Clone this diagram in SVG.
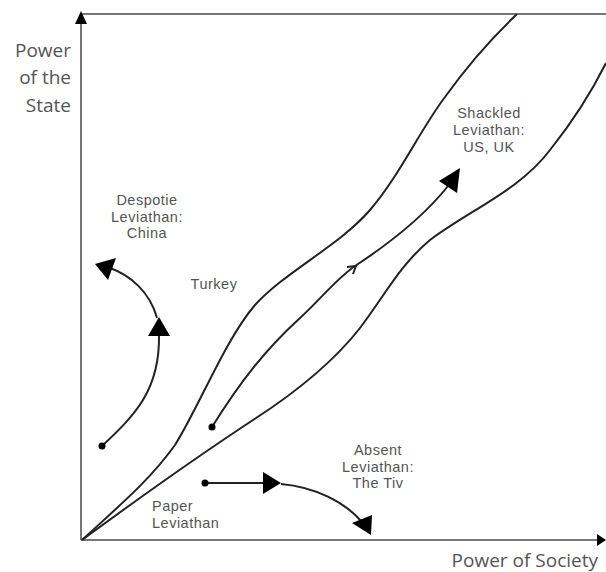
<svg xmlns="http://www.w3.org/2000/svg" width="606" height="572" viewBox="0 0 606 572">
<style>
.axis{stroke:#777;stroke-width:2;fill:none}
.curve{stroke:#222;stroke-width:2;fill:none}
.head{fill:#000;stroke:none}
.lbl{font-family:"Liberation Sans",Arial,sans-serif;font-size:14.5px;letter-spacing:0.5px;fill:#555;text-anchor:middle}
.ax{font-family:"Open Sans","DejaVu Sans",sans-serif;font-size:19px;fill:#555}
</style>
<rect width="606" height="572" fill="#fff"/>
<g id="axes">
<line class="axis" x1="81" y1="540" x2="81" y2="20"/>
<line class="axis" x1="81" y1="14" x2="606" y2="14"/>
<line class="axis" x1="81" y1="540" x2="598" y2="540"/>
<polygon class="head" points="81,11 75,24 87,24"/>
<polygon class="head" points="606,540 597,534 597,546"/>
</g>
<g id="connectors">
<path class="curve" d="M82,540 C120,505 150,480 175,445 C200,405 225,340 255,305 C285,272 340,245 370,210 C400,175 420,130 445,97 C470,62 495,35 517,14"/>
<path class="curve" d="M82,540 C150,490 200,455 250,422 C300,390 335,360 360,328 C385,295 400,265 430,240 C470,210 520,190 550,150 C570,125 590,95 606,63"/>
<path class="curve" d="M212,427 C240,382 265,350 300,318 C320,300 335,280 355,266 C390,243 425,215 448,186"/>
<polyline class="curve" points="347,267 356,266 353,274" stroke-width="1.6"/>
<polygon class="head" points="460,168 439,181 457,193"/>
<circle class="head" cx="212" cy="427" r="3.5"/>
<path class="curve" d="M102,446 C135,415 160,390 159,335"/>
<polygon class="head" points="159,317 148,336 170,336"/>
<path class="curve" d="M157,318 C150,292 130,275 110,268"/>
<polygon class="head" points="95,264 116,258 108,280"/>
<circle class="head" cx="102" cy="446" r="3.5"/>
<path class="curve" d="M205,483 L265,483"/>
<polygon class="head" points="281,483 263,472 263,494"/>
<path class="curve" d="M281,484 C315,487 345,502 362,522"/>
<polygon class="head" points="371,535 352,523 372,515"/>
<circle class="head" cx="205" cy="483" r="3.5"/>
</g>
<g id="label-state">
<text class="ax" text-anchor="end"><tspan x="71" y="57">Power</tspan><tspan x="71" y="84">of the</tspan><tspan x="71" y="112">State</tspan></text>
</g>
<g id="label-society">
<text class="ax" x="598" y="567" text-anchor="end">Power of Society</text>
</g>
<g id="node-despotic">
<text class="lbl"><tspan x="147" y="205">Despotie</tspan><tspan x="147" y="221.5">Leviathan:</tspan><tspan x="147" y="238">China</tspan></text>
</g>
<g id="node-turkey">
<text class="lbl" x="214" y="289">Turkey</text>
</g>
<g id="node-shackled">
<text class="lbl"><tspan x="489" y="118">Shackled</tspan><tspan x="489" y="135">Leviathan:</tspan><tspan x="489" y="152">US, UK</tspan></text>
</g>
<g id="node-absent">
<text class="lbl"><tspan x="378" y="455">Absent</tspan><tspan x="378" y="471.5">Leviathan:</tspan><tspan x="378" y="488">The Tiv</tspan></text>
</g>
<g id="node-paper">
<text class="lbl" text-anchor="start"><tspan x="152" y="511" text-anchor="start">Paper</tspan><tspan x="152" y="527.5" text-anchor="start">Leviathan</tspan></text>
</g>
</svg>
